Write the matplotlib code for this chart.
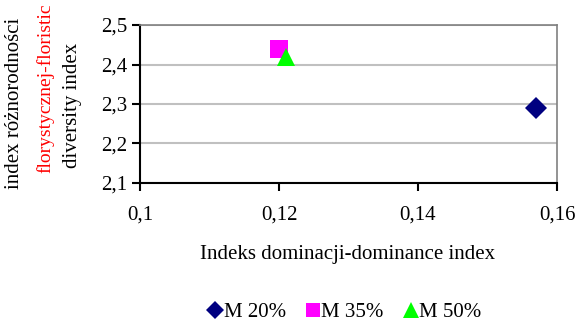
import matplotlib

matplotlib.use("Agg")
import matplotlib.pyplot as plt
from matplotlib.ticker import FuncFormatter

plt.rcParams["font.family"] = ["Liberation Serif", "DejaVu Serif"]

series_names = ["M 20%", "M 35%", "M 50%"]
dominance = [0.157, 0.120, 0.121]
diversity = [2.29, 2.44, 2.42]
markers = ["D", "s", "^"]
colors = ["#000080", "#ff00ff", "#00ff00"]
sizes = [11, 12.5, 13.5]

x_ticks = [0.1, 0.12, 0.14, 0.16]
y_ticks = [2.1, 2.2, 2.3, 2.4, 2.5]

FS = 15

fig = plt.figure(figsize=(5.78, 3.22), dpi=100)
ax = fig.add_axes([140 / 578, 1 - 183 / 322, 417 / 578, 158 / 322])

for name, x, y, m, c, s in zip(series_names, dominance, diversity, markers, colors, sizes):
    ax.plot([x], [y], linestyle="none", marker=m, color=c, markersize=s,
            markeredgewidth=0, label=name, zorder=3)

ax.set_xlim(0.1, 0.16)
ax.set_ylim(2.1, 2.5)
ax.set_xticks(x_ticks)
ax.set_yticks(y_ticks)
ax.xaxis.set_major_formatter(FuncFormatter(lambda v, _: f"{v:g}".replace(".", ",")))
ax.yaxis.set_major_formatter(FuncFormatter(lambda v, _: f"{v:.1f}".replace(".", ",")))
ax.tick_params(labelsize=FS, direction="out", length=6, width=1.5, color="black", pad=3)
ax.tick_params(axis="x", pad=10)
ax.grid(axis="y", color="#c0c0c0", linewidth=1.5)
ax.set_axisbelow(True)
for side in ("left", "bottom"):
    ax.spines[side].set_color("black")
    ax.spines[side].set_linewidth(1.5)
for side in ("top", "right"):
    ax.spines[side].set_color("#808080")
    ax.spines[side].set_linewidth(1.2)

fig.text(348 / 578, 1 - 255 / 322, "Indeks dominacji-dominance index",
         fontsize=FS, ha="center", va="center")

# three-line y label, middle line in red
fig.text(15 / 578, 1 - 103 / 322, "index różnorodności", rotation=90,
         fontsize=FS, ha="center", va="center")
fig.text(45 / 578, 1 - 88 / 322, "florystycznej-floristic", rotation=90,
         fontsize=14, ha="center", va="center", color="red")
fig.text(73 / 578, 1 - 105 / 322, "diversity index", rotation=90,
         fontsize=FS, ha="center", va="center")

fig.legend(loc="center", bbox_to_anchor=(345 / 578, 1 - 312 / 322), ncol=3,
           frameon=False, fontsize=FS, handlelength=0.6, handletextpad=0.1,
           columnspacing=1.0, markerscale=0.85)

fig.savefig("out.png", dpi=100)
